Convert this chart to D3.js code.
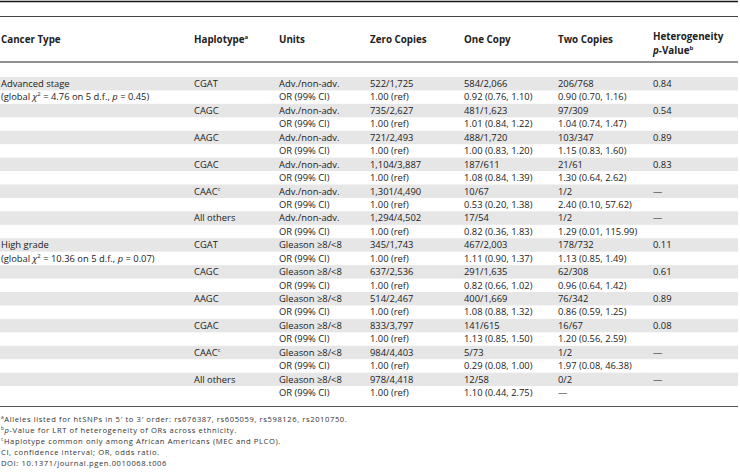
<!DOCTYPE html>
<html><head><meta charset="utf-8">
<script src="https://cdn.jsdelivr.net/npm/d3@7"></script>
<style>
body{margin:0;background:#fff;}
svg text{font-family:"Open Sans",sans-serif;fill:#222;}
</style></head>
<body><svg id="c" width="740" height="473"></svg>
<script>
const headers = ["Cancer Type","Haplotype","Units","Zero Copies","One Copy","Two Copies","Heterogeneity"];
const groups = ["Advanced stage","High grade"];
const groupStats = [["4.76","5","0.45"],["10.36","5","0.07"]];
const haplotypes = ["CGAT","CAGC","AAGC","CGAC","CAAC","All others"];
const unitLabels = [["Adv./non-adv.","OR (99% CI)"],["Gleason \u22658/<8","OR (99% CI)"]];
const advZero = ["522/1,725","735/2,627","721/2,493","1,104/3,887","1,301/4,490","1,294/4,502"];
const advOne = ["584/2,066","481/1,623","488/1,720","187/611","10/67","17/54"];
const advTwo = ["206/768","97/309","103/347","21/61","1/2","1/2"];
const advOROne = ["0.92 (0.76, 1.10)","1.01 (0.84, 1.22)","1.00 (0.83, 1.20)","1.08 (0.84, 1.39)","0.53 (0.20, 1.38)","0.82 (0.36, 1.83)"];
const advORTwo = ["0.90 (0.70, 1.16)","1.04 (0.74, 1.47)","1.15 (0.83, 1.60)","1.30 (0.64, 2.62)","2.40 (0.10, 57.62)","1.29 (0.01, 115.99)"];
const advP = ["0.84","0.54","0.89","0.83","\u2014","\u2014"];
const hgZero = ["345/1,743","637/2,536","514/2,467","833/3,797","984/4,403","978/4,418"];
const hgOne = ["467/2,003","291/1,635","400/1,669","141/615","5/73","12/58"];
const hgTwo = ["178/732","62/308","76/342","16/67","1/2","0/2"];
const hgOROne = ["1.11 (0.90, 1.37)","0.82 (0.66, 1.02)","1.08 (0.88, 1.32)","1.13 (0.85, 1.50)","0.29 (0.08, 1.00)","1.10 (0.44, 2.75)"];
const hgORTwo = ["1.13 (0.85, 1.49)","0.96 (0.64, 1.42)","0.86 (0.59, 1.25)","1.20 (0.56, 2.59)","1.97 (0.08, 46.38)","\u2014"];
const hgP = ["0.11","0.61","0.89","0.08","\u2014","\u2014"];
const footnotes = [
  ["a","Alleles listed for htSNPs in 5\u2032 to 3\u2032 order: rs676387, rs605059, rs598126, rs2010750."],
  ["b","p","-Value for LRT of heterogeneity of ORs across ethnicity."],
  ["c","Haplotype common only among African Americans (MEC and PLCO)."],
  ["","CI, confidence interval; OR, odds ratio."],
  ["","DOI: 10.1371/journal.pgen.0010068.t006"]
];

const svg = d3.select("#c");
const W = 740;
const colX = d3.scaleOrdinal().domain(headers).range([1,194,279,370,464,558,653]);

const rows = [];
const sets = [
  {zero:advZero, one:advOne, two:advTwo, orOne:advOROne, orTwo:advORTwo, p:advP},
  {zero:hgZero, one:hgOne, two:hgTwo, orOne:hgOROne, orTwo:hgORTwo, p:hgP}
];
sets.forEach((s,g)=>{
  haplotypes.forEach((h,k)=>{
    rows.push({g, k, kind:0, hap:h, unit:unitLabels[g][0], zero:s.zero[k], one:s.one[k], two:s.two[k], p:s.p[k]});
    rows.push({g, k, kind:1, hap:"", unit:unitLabels[g][1], zero:"1.00 (ref)", one:s.orOne[k], two:s.orTwo[k], p:""});
  });
});
const y = d3.scaleBand().domain(d3.range(rows.length)).range([77, 399.5]).padding(0);

// rules
svg.append("line").attr("x1",0).attr("x2",W-2).attr("y1",1.5).attr("y2",1.5).attr("stroke","#111").attr("stroke-width",1.5);
svg.append("line").attr("x1",0).attr("x2",W-2).attr("y1",16.5).attr("y2",16.5).attr("stroke","#444").attr("stroke-width",1);
svg.append("line").attr("x1",0).attr("x2",W-2).attr("y1",62).attr("y2",62).attr("stroke","#222").attr("stroke-width",1.2);
svg.append("line").attr("x1",0).attr("x2",W-2).attr("y1",406.5).attr("y2",406.5).attr("stroke","#555").attr("stroke-width",1.2);

// shaded bands
svg.selectAll("rect.band").data(rows.map((r,i)=>i).filter(i=>rows[i].kind===0)).join("rect")
  .attr("class","band").attr("x",0).attr("width",W-2)
  .attr("y",i=>y(i)).attr("height",y.bandwidth()).attr("fill","#e6e6e6");

// headers
const hfs = 9.8;
headers.forEach((h)=>{
  const t = svg.append("text").attr("x",colX(h)).attr("y",h==="Heterogeneity"?40:42.5).attr("font-weight","bold").attr("font-size",hfs);
  t.append("tspan").text(h);
  if(h==="Haplotype") t.append("tspan").attr("font-size",6).attr("dy",-4).text("a");
});
{
  const t = svg.append("text").attr("x",colX("Heterogeneity")).attr("y",54).attr("font-weight","bold").attr("font-size",hfs);
  t.append("tspan").attr("font-style","italic").text("p");
  t.append("tspan").text("-Value");
  t.append("tspan").attr("font-size",6).attr("dy",-4).text("b");
}

// body
const fs = 9.4;
const cellG = svg.append("g");
rows.forEach((r,i)=>{
  const by = y(i) + y.bandwidth()/2 + 3.3;
  const add = (col,txt)=>{ if(txt) return cellG.append("text").attr("x",colX(col)).attr("y",by).attr("font-size",fs).text(txt); };
  if(r.k===0 && r.kind===0) add("Cancer Type", groups[r.g]);
  if(r.k===0 && r.kind===1){
    const st = groupStats[r.g];
    const t = cellG.append("text").attr("x",colX("Cancer Type")).attr("y",by).attr("font-size",fs);
    t.append("tspan").text("(global ");
    t.append("tspan").attr("font-style","italic").text("\u03C7");
    t.append("tspan").attr("font-size",6).attr("dy",-4).text("2");
    t.append("tspan").attr("dy",4).text(" = " + st[0] + " on " + st[1] + " d.f., ");
    t.append("tspan").attr("font-style","italic").text("p");
    t.append("tspan").text(" = " + st[2] + ")");
  }
  if(r.hap){
    const t = add("Haplotype", r.hap);
    if(r.hap==="CAAC") t.append("tspan").attr("font-size",5.5).attr("dy",-4).text("c");
  }
  add("Units", r.unit);
  add("Zero Copies", r.zero);
  add("One Copy", r.one);
  add("Two Copies", r.two);
  add("Heterogeneity", r.p);
});

// footnotes
const fy = d3.scaleBand().domain(d3.range(footnotes.length)).range([414, 469]);
footnotes.forEach((f,i)=>{
  const t = svg.append("text").attr("x",1).attr("y",fy(i)+fy.bandwidth()/2+2.5)
    .attr("font-size",7.6).attr("letter-spacing",0.6).style("fill","#333");
  if(f[0]) t.append("tspan").attr("font-size",4.8).attr("dy",-3).text(f[0]);
  if(f.length===3){
    t.append("tspan").attr("dy",f[0]?3:0).attr("font-style","italic").text(f[1]);
    t.append("tspan").text(f[2]);
  } else {
    t.append("tspan").attr("dy",f[0]?3:0).text(f[1]);
  }
});
</script></body></html>
